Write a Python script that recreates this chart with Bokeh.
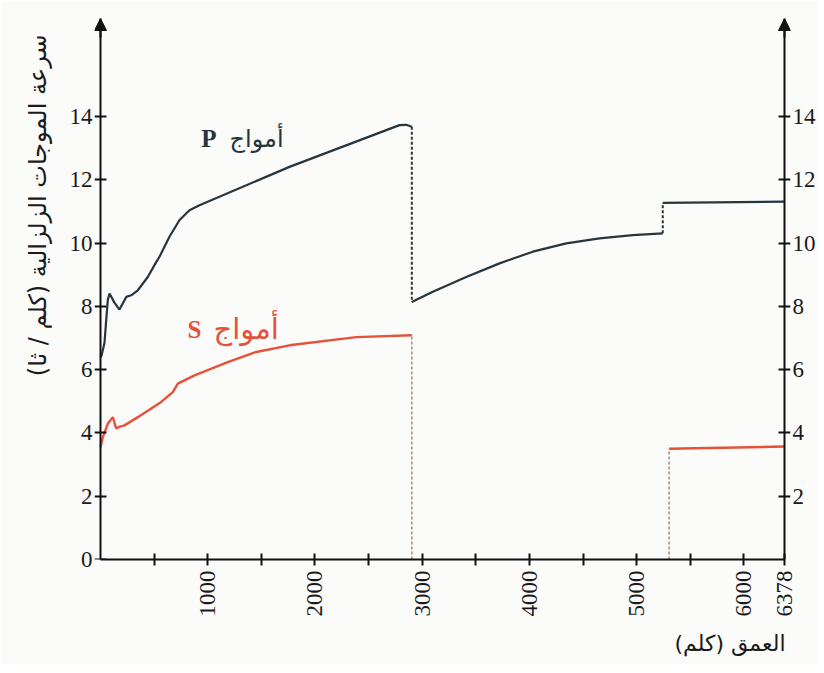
import math
from bokeh.plotting import figure
from bokeh.models import Range1d, LinearAxis, FixedTicker, Label, Arrow, NormalHead, Title
from bokeh.embed import file_html
from bokeh.resources import INLINE

# ---------------- data (depth in km, velocity in km/s) ----------------
EARTH_RADIUS = 6378
CMB_DEPTH = 2903
ICB_DEPTH_P = 5243
ICB_DEPTH_S = 5302

P_UPPER_DEPTH = [0, 10, 37, 53, 68, 84, 130, 177, 240, 286, 348, 441, 519, 550, 643, 737, 830, 923, 1762, 2788, 2850, 2903]
P_UPPER_V = [6.40, 6.45, 6.84, 7.56, 8.20, 8.41, 8.12, 7.90, 8.30, 8.35, 8.51, 8.93, 9.40, 9.57, 10.20, 10.73, 11.04, 11.20, 12.41, 13.73, 13.74, 13.68]

P_LOWER_DEPTH = [2903, 3099, 3410, 3721, 4031, 4343, 4653, 4964, 5243]
P_LOWER_V = [8.14, 8.46, 8.93, 9.36, 9.73, 9.99, 10.15, 10.25, 10.31]

P_INNER_DEPTH = [5243, 6378]
P_INNER_V = [11.27, 11.31]

S_OUTER_DEPTH = [0, 22, 68, 115, 146, 180, 224, 348, 566, 674, 721, 877, 1187, 1452, 1762, 2384, 2903]
S_OUTER_V = [3.55, 3.87, 4.29, 4.50, 4.14, 4.20, 4.24, 4.50, 4.98, 5.29, 5.56, 5.82, 6.24, 6.56, 6.77, 7.03, 7.09]

S_INNER_DEPTH = [5302, 6378]
S_INNER_V = [3.50, 3.57]

X_TICKS = [1000, 2000, 3000, 4000, 5000, 6000, 6378]
X_MINOR = [500, 1500, 2500, 3500, 4500, 5500]
Y_TICKS_LEFT = [0, 2, 4, 6, 8, 10, 12, 14]
Y_TICKS_RIGHT = [2, 4, 6, 8, 10, 12, 14]

Y_LABEL = "\u200fسرعة الموجات الزلزالية (كلم / ثا)\u200f"
X_LABEL = "\u200fالعمق (كلم)\u200f"
WAVE_WORD = "أمواج"

# ---------------- styling ----------------
P_COLOR = "#27353d"
S_COLOR = "#e4523a"
S_DASH_COLOR = "#b98a80"
NUM_FONT = "Liberation Serif"
AR_FONT = "DejaVu Sans"
BG = "#fbfbfa"
AXIS_COLOR = "#111111"
TICK_FONT_SIZE = "23px"

Y_MAX = 17.1
AXES_W = 684                      # pixel distance between the two vertical axes
PAD_PX = 6                        # room inside the frame for the arrow heads
PAD_KM = PAD_PX * EARTH_RADIUS / AXES_W

p = figure(frame_width=AXES_W + 2 * PAD_PX, frame_height=541,
           x_range=Range1d(-PAD_KM, EARTH_RADIUS + PAD_KM), y_range=Range1d(0, Y_MAX),
           output_backend="svg", toolbar_location=None,
           x_axis_location="below", y_axis_location=None,
           min_border_left=100 - PAD_PX, min_border_top=18, min_border_right=10,
           min_border_bottom=60)
p.grid.visible = False
p.outline_line_color = None
p.background_fill_color = BG
p.border_fill_color = BG


def style_axis(ax):
    ax.axis_line_width = 2
    ax.axis_line_color = AXIS_COLOR
    ax.major_tick_line_width = 2
    ax.minor_tick_line_width = 2
    ax.major_tick_line_color = AXIS_COLOR
    ax.minor_tick_line_color = AXIS_COLOR
    ax.major_tick_in = 6
    ax.major_tick_out = 6
    ax.minor_tick_in = 6
    ax.minor_tick_out = 6
    ax.major_label_text_font = NUM_FONT
    ax.major_label_text_font_size = TICK_FONT_SIZE
    ax.major_label_text_color = "#1a1a1a"
    ax.major_label_standoff = 2


def label_only_axis(ticks, side_standoff):
    """Axis at the frame edge that only carries the tick labels."""
    ax = LinearAxis(ticker=FixedTicker(ticks=ticks))
    ax.axis_line_color = None
    ax.major_tick_line_color = None
    ax.minor_tick_line_color = None
    ax.major_tick_in = 0
    ax.major_tick_out = 0
    ax.minor_tick_in = 0
    ax.minor_tick_out = 0
    ax.major_label_text_font = NUM_FONT
    ax.major_label_text_font_size = TICK_FONT_SIZE
    ax.major_label_text_color = "#1a1a1a"
    ax.major_label_standoff = side_standoff
    return ax


def line_only_axis(ticks, loc):
    """Axis drawn at the data position 0 / 6378 with line and ticks only."""
    ax = LinearAxis(ticker=FixedTicker(ticks=ticks), fixed_location=loc)
    style_axis(ax)
    ax.minor_tick_in = 0
    ax.minor_tick_out = 0
    ax.major_label_text_alpha = 0
    return ax


xax = p.xaxis[0]
xax.ticker = FixedTicker(ticks=X_TICKS, minor_ticks=X_MINOR)
style_axis(xax)
xax.bounds = (0, EARTH_RADIUS)
xax.major_label_orientation = math.pi / 2
xax.major_label_standoff = 5

p.add_layout(line_only_axis(Y_TICKS_LEFT, 0), "left")
p.add_layout(label_only_axis(Y_TICKS_LEFT, 2), "left")
p.add_layout(line_only_axis(Y_TICKS_RIGHT, EARTH_RADIUS), "right")
p.add_layout(label_only_axis(Y_TICKS_RIGHT, 2), "right")

# arrow heads on the vertical axes
for xpos in (0, EARTH_RADIUS):
    p.add_layout(Arrow(x_start=xpos, y_start=Y_MAX - 0.6, x_end=xpos, y_end=Y_MAX,
                       line_width=2, line_color=AXIS_COLOR,
                       end=NormalHead(size=12, fill_color=AXIS_COLOR, line_color=AXIS_COLOR)))

# ---------------- curves ----------------
p.line(P_UPPER_DEPTH, P_UPPER_V, line_color=P_COLOR, line_width=2.2)
p.line(P_LOWER_DEPTH, P_LOWER_V, line_color=P_COLOR, line_width=2.2)
p.line(P_INNER_DEPTH, P_INNER_V, line_color=P_COLOR, line_width=2.2)

p.line(S_OUTER_DEPTH, S_OUTER_V, line_color=S_COLOR, line_width=2.4)
p.line(S_INNER_DEPTH, S_INNER_V, line_color=S_COLOR, line_width=2.6)

# dashed connections at the discontinuities
p.line([CMB_DEPTH, CMB_DEPTH], [P_UPPER_V[-1], P_LOWER_V[0]], line_color="#333333",
       line_width=2, line_dash="3 2")
p.line([ICB_DEPTH_P, ICB_DEPTH_P], [P_LOWER_V[-1], P_INNER_V[0]], line_color="#333333",
       line_width=2, line_dash="3 2")
p.line([CMB_DEPTH, CMB_DEPTH], [0, S_OUTER_V[-1]], line_color=S_DASH_COLOR,
       line_width=1.6, line_dash="3 2")
p.line([ICB_DEPTH_S, ICB_DEPTH_S], [0, S_INNER_V[0]], line_color=S_DASH_COLOR,
       line_width=1.6, line_dash="3 2")

# ---------------- texts ----------------
p.add_layout(Label(x=1082, y=13.30, text="P", text_align="right", text_baseline="alphabetic",
                   text_font=NUM_FONT, text_font_style="bold", text_font_size="25px",
                   text_color=P_COLOR))
p.add_layout(Label(x=1203, y=13.30, text=WAVE_WORD, text_align="left", text_baseline="alphabetic",
                   text_font=AR_FONT, text_font_size="24px", text_color=P_COLOR))

p.add_layout(Label(x=942, y=7.28, text="S", text_align="right", text_baseline="alphabetic",
                   text_font=NUM_FONT, text_font_style="bold", text_font_size="25px",
                   text_color=S_COLOR))
p.add_layout(Label(x=1053, y=7.28, text=WAVE_WORD, text_align="left", text_baseline="alphabetic",
                   text_font=AR_FONT, text_font_size="29px", text_color=S_COLOR))

p.add_layout(Title(text=Y_LABEL, align="right", offset=16, standoff=29,
                   text_font=AR_FONT, text_font_size="24px", text_font_style="normal",
                   text_color="#1a1a1a"), "left")

p.add_layout(Title(text=X_LABEL, align="right", offset=5, standoff=18,
                   text_font=AR_FONT, text_font_size="22px", text_font_style="normal",
                   text_color="#1a1a1a"), "below")

open("out.html", "w").write(file_html(p, INLINE))
